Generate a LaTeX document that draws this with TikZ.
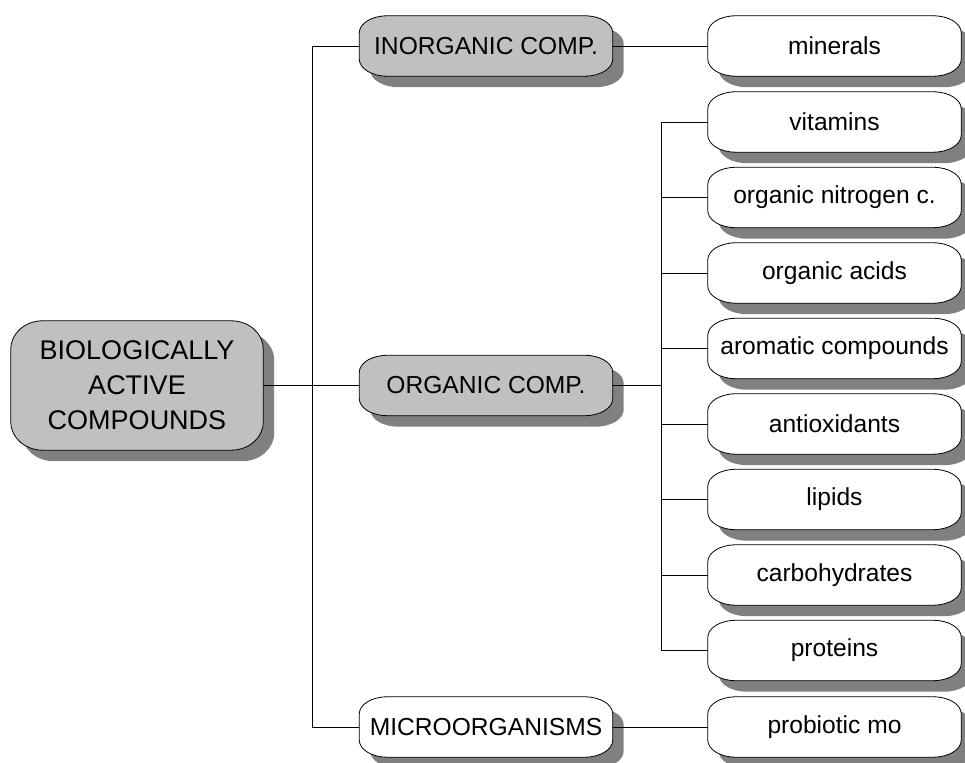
\documentclass[tikz,border=0pt]{standalone}
\usepackage{fontspec}
\setmainfont{Liberation Sans}
\usetikzlibrary{calc,backgrounds}

\definecolor{boxgrey}{RGB}{192,192,192}
\definecolor{shadowgrey}{RGB}{128,128,128}

% Rounded box with elliptical corners drawn around a named node.
% #1 node, #2 path style, #3 x radius, #4 y radius, #5 offset
\newcommand\ellbox[5]{%
  \path[#2]
    ($(#1.south west)+(#3pt,0)+(#5)$) -- ($(#1.south east)+(-#3pt,0)+(#5)$)
    arc[start angle=-90,end angle=0,x radius=#3pt,y radius=#4pt]
    -- ($(#1.north east)+(0,-#4pt)+(#5)$)
    arc[start angle=0,end angle=90,x radius=#3pt,y radius=#4pt]
    -- ($(#1.north west)+(#3pt,0)+(#5)$)
    arc[start angle=90,end angle=180,x radius=#3pt,y radius=#4pt]
    -- ($(#1.south west)+(0,#4pt)+(#5)$)
    arc[start angle=180,end angle=270,x radius=#3pt,y radius=#4pt]
    -- cycle;}

\tikzset{
  x=1pt, y=1pt,
  item/.style={minimum width=253pt, minimum height=60pt, inner sep=0pt,
    font=\fontsize{24.6}{29}\selectfont},
  rootitem/.style={minimum width=252pt, minimum height=129pt, inner sep=0pt,
    align=center, font=\fontsize{27}{35}\selectfont},
  shadowfill/.style={fill=shadowgrey},
  greyfill/.style={fill=boxgrey, draw=black, line width=0.8pt},
  whitefill/.style={fill=white, draw=black, line width=0.8pt},
  link/.style={draw=black, line width=0.8pt},
}

\begin{document}
\begin{tikzpicture}
\useasboundingbox (0,0) rectangle (965,762);

% root
\node[rootitem] (root) at (137,376.5) {BIOLOGICALLY\\ACTIVE\\COMPOUNDS};

% middle column
\node[item] (inorg) at (486,716) {INORGANIC COMP.};
\node[item] (org)   at (486,376.5) {ORGANIC COMP.};
\node[item] (micro) at (486,35) {MICROORGANISMS};

% right column
\node[item] (minerals)  at (834.5,716)   {minerals};
\node[item] (vitamins)  at (834.5,640)   {vitamins};
\node[item] (nitrogen)  at (834.5,564.5) {organic nitrogen c.};
\node[item] (acids)     at (834.5,489)   {organic acids};
\node[item] (aromatic)  at (834.5,413.5) {aromatic compounds};
\node[item] (antiox)    at (834.5,338)   {antioxidants};
\node[item] (lipids)    at (834.5,262.5) {lipids};
\node[item] (carbs)     at (834.5,187)   {carbohydrates};
\node[item] (proteins)  at (834.5,111.5) {proteins};
\node[item] (probiotic) at (834.5,35)    {probiotic mo};

% junction points of the tree
\coordinate (trunk)  at (312,376.5);
\coordinate (branch) at (661,376.5);

\begin{scope}[on background layer]
  % drop shadows
  \ellbox{root}{shadowfill}{32}{28}{11pt,-11pt}
  \foreach \n in {inorg,org,micro,minerals,vitamins,nitrogen,acids,aromatic,
                  antiox,lipids,carbs,proteins,probiotic}
    {\ellbox{\n}{shadowfill}{28}{17}{11pt,-11pt}}
  % box bodies
  \ellbox{root}{greyfill}{32}{28}{0pt,0pt}
  \foreach \n in {inorg,org}
    {\ellbox{\n}{greyfill}{28}{17}{0pt,0pt}}
  \foreach \n in {micro,minerals,vitamins,nitrogen,acids,aromatic,
                  antiox,lipids,carbs,proteins,probiotic}
    {\ellbox{\n}{whitefill}{28}{17}{0pt,0pt}}
\end{scope}

% connectors
\draw[link] (root.east) -- (trunk);
\draw[link] (org.west) -- (trunk);
\draw[link] (inorg.west) -| (trunk);
\draw[link] (micro.west) -| (trunk);
\draw[link] (inorg.east) -- (minerals.west);
\draw[link] (micro.east) -- (probiotic.west);
\draw[link] (org.east) -- (branch);
\foreach \n in {vitamins,nitrogen,acids,aromatic,antiox,lipids,carbs,proteins}
  {\draw[link] (\n.west) -| (branch);}
\end{tikzpicture}
\end{document}
